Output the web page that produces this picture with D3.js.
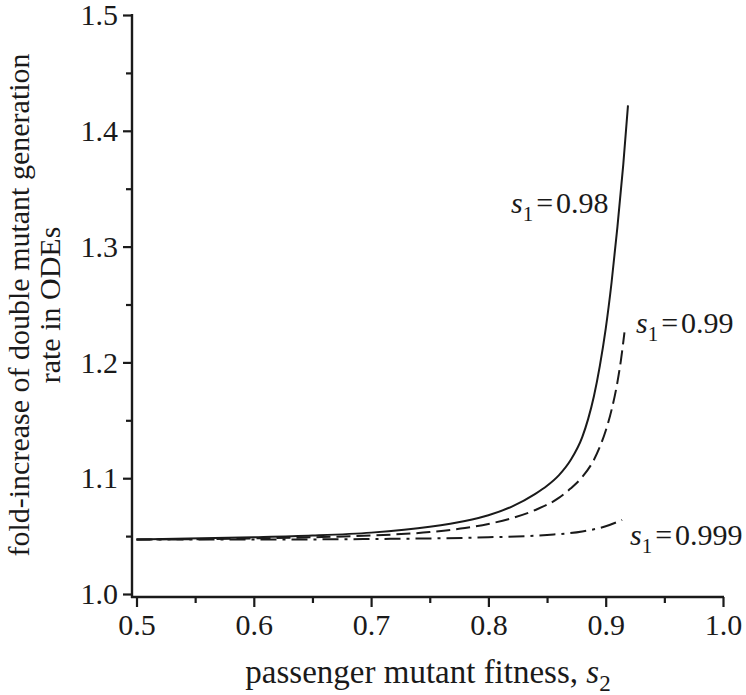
<!DOCTYPE html>
<html>
<head>
<meta charset="utf-8">
<script src="https://cdn.jsdelivr.net/npm/d3@7"></script>
<style>
  body { margin: 0; background: #fff; }
  svg text { font-family: "Liberation Serif", "Times New Roman", serif; fill: #1a1a1a; }
</style>
</head>
<body>
<div id="chart"></div>
<script>
// s1 = 0.98 (solid)
const s2Solid = [0.5, 0.6, 0.65, 0.7, 0.75, 0.78, 0.8, 0.82, 0.84, 0.85, 0.86, 0.87, 0.88, 0.885, 0.89, 0.895, 0.9, 0.905, 0.91, 0.915, 0.919];
const foldSolid = [1.047, 1.049, 1.0505, 1.053, 1.058, 1.063, 1.068, 1.0755, 1.0865, 1.0935, 1.1025, 1.1155, 1.1355, 1.151, 1.171, 1.197, 1.229, 1.269, 1.317, 1.371, 1.422];

// s1 = 0.99 (dashed)
const s2Dashed = [0.5, 0.6, 0.65, 0.7, 0.75, 0.78, 0.8, 0.82, 0.84, 0.86, 0.87, 0.88, 0.89, 0.895, 0.9, 0.905, 0.91, 0.913, 0.916];
const foldDashed = [1.047, 1.048, 1.049, 1.0505, 1.0535, 1.057, 1.0605, 1.0655, 1.0725, 1.083, 1.091, 1.101, 1.116, 1.127, 1.141, 1.159, 1.183, 1.202, 1.226];

// s1 = 0.999 (dash-dot)
const s2DashDot = [0.5, 0.6, 0.7, 0.75, 0.8, 0.85, 0.88, 0.9, 0.914];
const foldDashDot = [1.047, 1.047, 1.0475, 1.048, 1.049, 1.051, 1.054, 1.0585, 1.064];

const xTicks = [0.5, 0.6, 0.7, 0.8, 0.9, 1.0];
const xMinor = [0.55, 0.65, 0.75, 0.85, 0.95];
const yTicks = [1.0, 1.1, 1.2, 1.3, 1.4, 1.5];
const yMinor = [1.05, 1.15, 1.25, 1.35, 1.45];

const width = 746;
const height = 695;
const serif = '"Liberation Serif", "Times New Roman", serif';

const svg = d3.select('#chart').append('svg')
  .attr('width', width)
  .attr('height', height);

const x = d3.scaleLinear().domain([0.5, 1.0]).range([136.5, 723]);
const y = d3.scaleLinear().domain([1.0, 1.5]).range([594, 15]);

const axisLeftX = 132;
const axisBottomY = 597;

// axis lines
svg.append('line')
  .attr('x1', axisLeftX).attr('x2', axisLeftX)
  .attr('y1', y(1.5) - 1).attr('y2', axisBottomY + 1)
  .attr('stroke', '#1a1a1a').attr('stroke-width', 2.4);

svg.append('line')
  .attr('x1', axisLeftX - 1).attr('x2', x(1.0) + 1)
  .attr('y1', axisBottomY).attr('y2', axisBottomY)
  .attr('stroke', '#1a1a1a').attr('stroke-width', 2.4);

// x axis ticks
const xAxis = svg.append('g')
  .attr('transform', `translate(0, ${axisBottomY})`)
  .call(d3.axisBottom(x).tickValues(xTicks).tickSize(10).tickSizeOuter(0).tickPadding(7)
    .tickFormat(d3.format('.1f')));
xAxis.select('.domain').remove();

svg.append('g')
  .attr('transform', `translate(0, ${axisBottomY})`)
  .call(d3.axisBottom(x).tickValues(xMinor).tickSize(6).tickFormat(''))
  .select('.domain').remove();

// y axis ticks
const yAxis = svg.append('g')
  .attr('transform', `translate(${axisLeftX}, 0)`)
  .call(d3.axisLeft(y).tickValues(yTicks).tickSize(9).tickSizeOuter(0).tickPadding(5)
    .tickFormat(d3.format('.1f')));
yAxis.select('.domain').remove();

svg.append('g')
  .attr('transform', `translate(${axisLeftX}, 0)`)
  .call(d3.axisLeft(y).tickValues(yMinor).tickSize(6).tickFormat(''))
  .select('.domain').remove();

svg.selectAll('g').attr('font-family', serif).attr('font-size', 30);
svg.selectAll('.tick text').attr('fill', '#1a1a1a').style('font-size', '30px');
svg.selectAll('.tick line').attr('stroke', '#1a1a1a').attr('stroke-width', 2.2);

// curves
const line = d3.line()
  .x(d => x(d[0]))
  .y(d => y(d[1]))
  .curve(d3.curveMonotoneX);

const series = [
  { xs: s2Solid, ys: foldSolid, dash: null },
  { xs: s2Dashed, ys: foldDashed, dash: '14,6' },
  { xs: s2DashDot, ys: foldDashDot, dash: '16,6,3,6' }
];

series.forEach(s => {
  svg.append('path')
    .datum(s.xs.map((v, i) => [v, s.ys[i]]))
    .attr('d', line)
    .attr('fill', 'none')
    .attr('stroke', '#1a1a1a')
    .attr('stroke-width', 2)
    .attr('stroke-dasharray', s.dash);
});

// curve labels
const labels = [
  { text: '0.98', x: 511, y: 213 },
  { text: '0.99', x: 636, y: 333 },
  { text: '0.999', x: 630, y: 545 }
];

labels.forEach(l => {
  const t = svg.append('text')
    .attr('x', l.x)
    .attr('y', l.y)
    .style('font-size', '30px');
  t.append('tspan').style('font-style', 'italic').text('s');
  t.append('tspan').attr('dy', 8).style('font-size', '21px').text('1');
  t.append('tspan').attr('dy', -8).attr('dx', 3).text('=');
  t.append('tspan').attr('dx', 3).text(l.text);
});

// x axis title
const xTitle = svg.append('text')
  .attr('x', 428)
  .attr('y', 683)
  .attr('text-anchor', 'middle')
  .style('font-size', '33px');
xTitle.append('tspan').text('passenger mutant fitness, ');
xTitle.append('tspan').style('font-style', 'italic').text('s');
xTitle.append('tspan').attr('dy', 8).style('font-size', '23px').text('2');

// y axis title
const yTitle = svg.append('text')
  .attr('transform', 'translate(29, 305) rotate(-90)')
  .attr('text-anchor', 'middle')
  .style('font-size', '30px');
yTitle.append('tspan').attr('x', 0).attr('y', 0).text('fold-increase of double mutant generation');
yTitle.append('tspan').attr('x', 0).attr('y', 31).text('rate in ODEs');
</script>
</body>
</html>
